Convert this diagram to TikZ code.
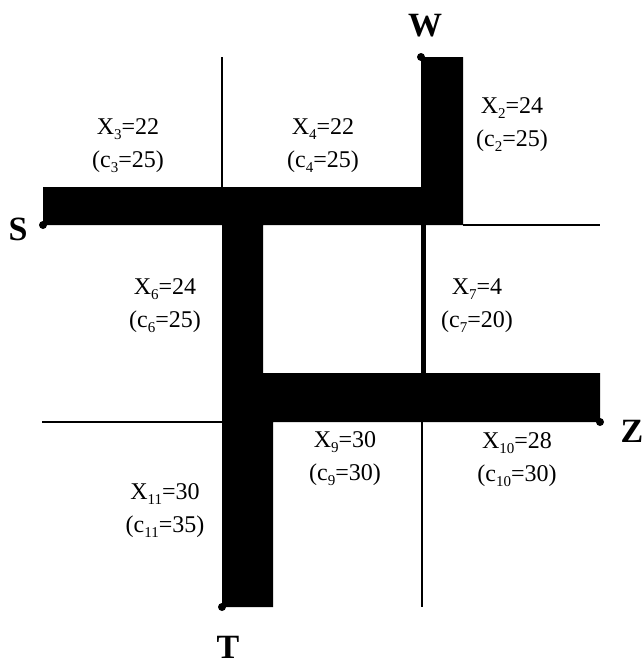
\documentclass[tikz,border=0pt]{standalone}
\usepackage{fontspec}
\setmainfont{Liberation Serif}
\newcommand{\sbs}[1]{\raisebox{-0.4ex}{\fontsize{15}{15}\selectfont #1}}
\begin{document}
\begin{tikzpicture}[x=1pt,y=-1pt,
  grid/.style={line width=1.1pt},
  lbl/.style={font=\fontsize{24}{33}\selectfont, align=center, inner sep=0pt},
  term/.style={font=\bfseries\fontsize{34}{34}\selectfont, inner sep=0pt},
  dot/.style={circle, fill, inner sep=0pt, minimum size=8pt}]
\useasboundingbox (0,0) rectangle (644,667);
% terminals
\node[dot] (S) at (43,225) {};
\node[dot] (W) at (421,57) {};
\node[dot] (Z) at (600,422) {};
\node[dot] (T) at (222,607) {};
\node[term] (Sl) at (18,229) {S};
\node[term] (Wl) at (425,26) {W};
\node[term] (Zl) at (632,431) {Z};
\node[term] (Tl) at (228,647) {T};
% corner coordinates
\coordinate (a) at (222,187);
\coordinate (b) at (222,57);
\coordinate (c) at (463,225);
\coordinate (d) at (600,225);
\coordinate (e) at (42,422);
\coordinate (f) at (222,422);
\coordinate (g) at (422,422);
\coordinate (h) at (422,607);
% thin grid lines
\draw[grid] (b) -- (a);
\draw[grid] (c) -- (d);
\draw[grid] (e) -- (f);
\draw[grid] (g) -- (h);
% thick flow paths
\fill (S.center) -- (43,187) -- (421,187) -- (W.center) -- (463,57) -- (c) -- (263,225) -- (263,373) -- (600,373) -- (Z.center) -- (273,422) -- (273,607) -- (T.center) -- (222,225) -- cycle;
\fill (421,225) rectangle (426,375);
% labels
\node[lbl] (x3) at (128,146) {X\sbs{3}=22\\(c\sbs{3}=25)};
\node[lbl] (x4) at (323,146) {X\sbs{4}=22\\(c\sbs{4}=25)};
\node[lbl] (x2) at (512,125) {X\sbs{2}=24\\(c\sbs{2}=25)};
\node[lbl] (x6) at (165,306) {X\sbs{6}=24\\(c\sbs{6}=25)};
\node[lbl] (x7) at (477,306) {X\sbs{7}=4\\(c\sbs{7}=20)};
\node[lbl] (x9) at (345,459) {X\sbs{9}=30\\(c\sbs{9}=30)};
\node[lbl] (x10) at (517,460) {X\sbs{10}=28\\(c\sbs{10}=30)};
\node[lbl] (x11) at (165,511) {X\sbs{11}=30\\(c\sbs{11}=35)};
\end{tikzpicture}
\end{document}
